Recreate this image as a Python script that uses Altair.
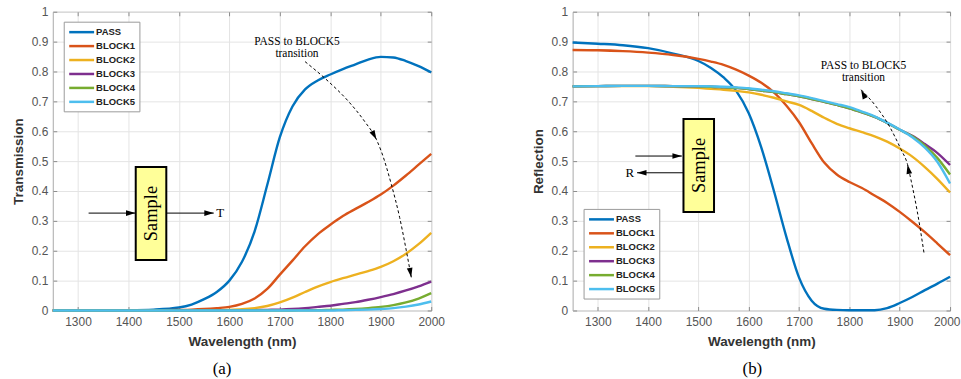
import altair as alt
import pandas as pd

# ---------------- data ----------------
SERIES = ["PASS", "BLOCK1", "BLOCK2", "BLOCK3", "BLOCK4", "BLOCK5"]
COLORS = ["#0072BD", "#D95319", "#EDB120", "#7E2F8E", "#77AC30", "#4DBEEE"]
X_TICKS = [1300, 1400, 1500, 1600, 1700, 1800, 1900, 2000]
Y_TICKS = [0, 0.1, 0.2, 0.3, 0.4, 0.5, 0.6, 0.7, 0.8, 0.9, 1]

NM = [1250, 1300, 1350, 1400, 1450, 1500, 1525, 1550, 1575, 1600, 1625, 1650, 1675,
      1700, 1725, 1750, 1775, 1800, 1825, 1850, 1875, 1900, 1925, 1950, 1975, 2000]

# (a) Transmission
T_PASS = [0, 0, 0.0005, 0.001, 0.003, 0.01, 0.02, 0.038, 0.062, 0.1, 0.163, 0.265, 0.42,
          0.58, 0.683, 0.74, 0.77, 0.79, 0.808, 0.824, 0.84, 0.849, 0.847, 0.835, 0.818, 0.797]
T_BLOCK1 = [0, 0, 0, 0.0005, 0.001, 0.002, 0.003, 0.005, 0.008, 0.012, 0.022, 0.04, 0.072,
            0.12, 0.167, 0.215, 0.255, 0.287, 0.316, 0.34, 0.363, 0.388, 0.418, 0.452, 0.488, 0.524]
T_BLOCK2 = [0, 0, 0, 0, 0, 0, 0, 0, 0.001, 0.002, 0.004, 0.008, 0.015,
            0.027, 0.043, 0.062, 0.08, 0.095, 0.108, 0.12, 0.132, 0.146, 0.165, 0.19, 0.222, 0.26]
T_BLOCK3 = [0, 0, 0, 0, 0, 0, 0, 0, 0, 0, 0, 0.001, 0.002,
            0.003, 0.005, 0.008, 0.012, 0.016, 0.022, 0.028, 0.036, 0.045, 0.055, 0.067, 0.081, 0.097]
T_BLOCK4 = [0, 0, 0, 0, 0, 0, 0, 0, 0, 0, 0, 0, 0,
            0, 0, 0.001, 0.001, 0.002, 0.003, 0.005, 0.008, 0.012, 0.018, 0.027, 0.04, 0.058]
T_BLOCK5 = [0, 0, 0, 0, 0, 0, 0, 0, 0, 0, 0, 0, 0,
            0, 0, 0, 0, 0, 0.001, 0.002, 0.003, 0.005, 0.008, 0.013, 0.02, 0.03]

# (b) Reflection
R_PASS = [0.897, 0.893, 0.888, 0.878, 0.86, 0.835, 0.812, 0.78, 0.735, 0.66, 0.545, 0.40, 0.245,
          0.11, 0.033, 0.006, 0.002, 0.001, 0.001, 0.001, 0.008, 0.025, 0.045, 0.068, 0.09, 0.113]
R_BLOCK1 = [0.872, 0.871, 0.868, 0.863, 0.855, 0.842, 0.833, 0.822, 0.806, 0.786, 0.762, 0.73, 0.685,
            0.63, 0.56, 0.495, 0.455, 0.43, 0.41, 0.385, 0.36, 0.33, 0.297, 0.262, 0.224, 0.185]
R_BLOCK2 = [0.75, 0.751, 0.751, 0.751, 0.749, 0.745, 0.742, 0.739, 0.735, 0.73, 0.722, 0.712, 0.70,
            0.688, 0.668, 0.645, 0.625, 0.61, 0.597, 0.583, 0.565, 0.542, 0.515, 0.48, 0.44, 0.395]
R_BLOCK3 = [0.75, 0.751, 0.752, 0.752, 0.751, 0.75, 0.749, 0.747, 0.745, 0.741, 0.736, 0.731, 0.724,
            0.717, 0.708, 0.698, 0.688, 0.677, 0.663, 0.648, 0.628, 0.605, 0.585, 0.557, 0.527, 0.487]
R_BLOCK4 = [0.75, 0.751, 0.752, 0.752, 0.751, 0.75, 0.749, 0.747, 0.745, 0.741, 0.736, 0.731, 0.724,
            0.717, 0.708, 0.698, 0.688, 0.677, 0.663, 0.648, 0.628, 0.605, 0.583, 0.552, 0.51, 0.455]
R_BLOCK5 = [0.75, 0.751, 0.752, 0.752, 0.751, 0.751, 0.75, 0.749, 0.747, 0.744, 0.739, 0.734, 0.727,
            0.72, 0.711, 0.701, 0.691, 0.681, 0.666, 0.65, 0.629, 0.606, 0.58, 0.545, 0.497, 0.425]

# annotations (data units)
A_TEXT = ["PASS to BLOCK5", "transition"]
A_TEXT_NM = [1734, 1734]
A_TEXT_V = [0.898, 0.858]
A_CURVE_NM = [1750, 1796, 1836, 1868, 1891.5, 1901, 1921, 1937.5, 1950.7, 1960.5]
A_CURVE_V = [0.833, 0.767, 0.70, 0.633, 0.572, 0.533, 0.422, 0.311, 0.20, 0.111]
A_HEAD_NM = [1891.5, 1960.5]
A_HEAD_V = [0.572, 0.111]
A_HEAD_ANG = [62, 80]
A_BOX = [1414.4, 1475, 0.169, 0.48]
A_ARROW_NM1 = [1321, 1475]
A_ARROW_NM2 = [1413.8, 1569]
A_ARROW_V = [0.326, 0.326]
A_ARROW_ANG = [0, 0]
A_LABEL = "T"
A_LABEL_NM = 1582
A_LABEL_V = 0.326

B_TEXT = ["PASS to BLOCK5", "transition"]
B_TEXT_NM = [1828, 1828]
B_TEXT_V = [0.818, 0.777]
B_CURVE_NM = [1823.3, 1853, 1879.3, 1902.5, 1915.5, 1922.9, 1934.7, 1948.6]
B_CURVE_V = [0.739, 0.683, 0.617, 0.539, 0.489, 0.433, 0.333, 0.189]
B_HEAD_NM = [1915.5, 1823.3]
B_HEAD_V = [0.489, 0.739]
B_HEAD_ANG = [259, 244]
B_BOX = [1470.3, 1531, 0.33, 0.641]
B_ARROW_NM1 = [1374.7, 1470.3]
B_ARROW_NM2 = [1467.1, 1378]
B_ARROW_V = [0.517, 0.461]
B_ARROW_ANG = [0, 180]
B_LABEL = "R"
B_LABEL_NM = 1363.5
B_LABEL_V = 0.461

SANS = "Liberation Sans"
SERIF = "Liberation Serif"
ARROW_SHAPE = "M0,0 L-2,-0.6 L-2,0.6 Z"
LEGEND_LINE = "M-2.5,0 H2.5"
X_SCALE = alt.Scale(domain=[1250, 2000], nice=False, zero=False)
Y_SCALE = alt.Scale(domain=[0, 1], nice=False)


def long_df(nm, cols):
    rows = []
    for name, vals in zip(SERIES, cols):
        for x, v in zip(nm, vals):
            rows.append({"nm": x, "val": v, "series": name})
    return pd.DataFrame(rows)


def tick_axis(orient, values):
    return alt.Axis(orient=orient, values=values, offset=-4, ticks=True, tickSize=4,
                    tickColor="#8c8c8c", tickWidth=1, labels=False, grid=False,
                    domain=False, title=None)


def panel(df, ytitle, caption, cap_dx, legend_x, legend_y, flush,
          text, text_nm, text_v, curve_nm, curve_v, head_nm, head_v, head_ang,
          box, arrow_nm1, arrow_nm2, arrow_v, arrow_ang, label, label_nm, label_v):
    xaxis = alt.Axis(values=X_TICKS, format="d", grid=True, gridColor="#e4e4e4",
                     ticks=False, domain=False, labelFont=SANS, labelFontSize=12,
                     labelColor="#555555", labelPadding=6,
                     labelFlush=flush, labelFlushOffset=10 if flush else 0,
                     titleFont=SANS, titleFontSize=13.5, titleFontWeight="bold",
                     titleColor="#333333", titlePadding=7)
    yaxis = alt.Axis(values=Y_TICKS, format="~g", grid=True, gridColor="#e4e4e4",
                     ticks=False, domain=False, labelFont=SANS, labelFontSize=12,
                     labelColor="#555555", labelPadding=5, labelFlush=False,
                     titleFont=SANS, titleFontSize=13.5, titleFontWeight="bold",
                     titleColor="#333333", titlePadding=6)
    x = alt.X("nm:Q", scale=X_SCALE, title="Wavelength (nm)", axis=xaxis)
    y = alt.Y("val:Q", scale=Y_SCALE, title=ytitle, axis=yaxis)
    xn = alt.X("nm:Q", scale=X_SCALE, axis=None)
    yn = alt.Y("val:Q", scale=Y_SCALE, axis=None)

    legend = alt.Legend(title=None, orient="none", legendX=legend_x, legendY=legend_y,
                        symbolType=LEGEND_LINE, symbolSize=100, symbolStrokeWidth=2.5,
                        symbolOffset=7.5, labelOffset=8,
                        labelFont=SANS, labelFontWeight="bold", labelFontSize=9.5,
                        labelColor="#222222", fillColor="white", strokeColor="#9a9a9a",
                        padding=4, rowPadding=2, cornerRadius=0)
    color = alt.Color("series:N", scale=alt.Scale(domain=SERIES, range=COLORS),
                      sort=SERIES, legend=legend)

    lines = alt.Chart(df).mark_line(strokeWidth=2.4, interpolate="monotone").encode(
        x=x, y=y, color=color)

    # inward box ticks (MATLAB style)
    ticks_bl = alt.Chart(df).mark_point(opacity=0).encode(
        x=alt.X("nm:Q", scale=X_SCALE, axis=tick_axis("bottom", X_TICKS)),
        y=alt.Y("val:Q", scale=Y_SCALE, axis=tick_axis("left", Y_TICKS)))
    ticks_tr = alt.Chart(df).mark_point(opacity=0).encode(
        x=alt.X("nm:Q", scale=X_SCALE, axis=tick_axis("top", X_TICKS)),
        y=alt.Y("val:Q", scale=Y_SCALE, axis=tick_axis("right", Y_TICKS)))

    tdf = pd.DataFrame({"nm": text_nm, "val": text_v, "t": text})
    ann_text = alt.Chart(tdf).mark_text(font=SERIF, fontSize=11.5, color="black").encode(
        x=xn, y=yn, text="t:N")

    cdf = pd.DataFrame({"nm": curve_nm, "val": curve_v})
    curve = alt.Chart(cdf).mark_line(color="black", strokeWidth=1, strokeDash=[3, 2.5],
                                     interpolate="monotone").encode(x=xn, y=yn)

    hdf = pd.DataFrame({"nm": head_nm, "val": head_v, "ang": head_ang})
    heads = alt.Chart(hdf).mark_point(shape=ARROW_SHAPE, filled=True, size=90,
                                      color="black", opacity=1).encode(
        x=xn, y=yn, angle=alt.Angle("ang:Q", scale=None))

    bdf = pd.DataFrame({"nm": [box[0]], "nm2": [box[1]], "val": [box[2]], "val2": [box[3]]})
    rect = alt.Chart(bdf).mark_rect(fill="#FFFF99", stroke="black", strokeWidth=2).encode(
        x=xn, x2="nm2", y=yn, y2="val2")
    sdf = pd.DataFrame({"nm": [(box[0] + box[1]) / 2], "val": [(box[2] + box[3]) / 2],
                        "t": ["Sample"]})
    stext = alt.Chart(sdf).mark_text(font=SERIF, fontSize=18.5, angle=270,
                                     color="black").encode(x=xn, y=yn, text="t:N")

    adf = pd.DataFrame({"nm": arrow_nm1, "nm2": arrow_nm2, "val": arrow_v})
    arrows = alt.Chart(adf).mark_rule(color="black", strokeWidth=1).encode(
        x=xn, x2="nm2", y=yn)
    ahdf = pd.DataFrame({"nm": arrow_nm2, "val": arrow_v, "ang": arrow_ang})
    aheads = alt.Chart(ahdf).mark_point(shape=ARROW_SHAPE, filled=True, size=90,
                                        color="black", opacity=1).encode(
        x=xn, y=yn, angle=alt.Angle("ang:Q", scale=None))
    ldf = pd.DataFrame({"nm": [label_nm], "val": [label_v], "t": [label]})
    ltext = alt.Chart(ldf).mark_text(font=SERIF, fontSize=13, color="black").encode(
        x=xn, y=yn, text="t:N")

    return alt.layer(lines, ticks_bl, ticks_tr, curve, heads, ann_text, arrows, aheads,
                     rect, stext, ltext).resolve_axis(x="independent", y="independent").properties(
        width=380, height=300,
        title=alt.TitleParams(caption, orient="bottom", font=SERIF, fontSize=17,
                              fontWeight="normal", color="black", offset=13, dx=cap_dx))


df_t = long_df(NM, [T_PASS, T_BLOCK1, T_BLOCK2, T_BLOCK3, T_BLOCK4, T_BLOCK5])
df_r = long_df(NM, [R_PASS, R_BLOCK1, R_BLOCK2, R_BLOCK3, R_BLOCK4, R_BLOCK5])

left = panel(df_t, "Transmission", "(a)", -20, 11, 10, False,
             A_TEXT, A_TEXT_NM, A_TEXT_V, A_CURVE_NM, A_CURVE_V, A_HEAD_NM, A_HEAD_V, A_HEAD_ANG,
             A_BOX, A_ARROW_NM1, A_ARROW_NM2, A_ARROW_V, A_ARROW_ANG, A_LABEL, A_LABEL_NM, A_LABEL_V)
right = panel(df_r, "Reflection", "(b)", -9, 11, 198, 1,
              B_TEXT, B_TEXT_NM, B_TEXT_V, B_CURVE_NM, B_CURVE_V, B_HEAD_NM, B_HEAD_V, B_HEAD_ANG,
              B_BOX, B_ARROW_NM1, B_ARROW_NM2, B_ARROW_V, B_ARROW_ANG, B_LABEL, B_LABEL_NM, B_LABEL_V)
right = right.properties(width=379)

chart = alt.hconcat(left, right, spacing=142, bounds="flush").resolve_scale(
    color="independent").resolve_legend(color="independent").configure(
    padding={"left": 10, "top": 4, "right": 0, "bottom": 0},
    background="white").configure_view(stroke="#a8a8a8", strokeWidth=1)

chart.save("out.html", embed_options={"renderer": "svg", "actions": False})
